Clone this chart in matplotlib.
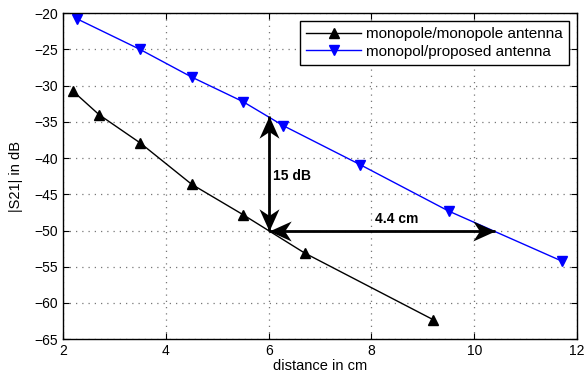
import numpy as np
import matplotlib
matplotlib.use("Agg")
import matplotlib.pyplot as plt
from matplotlib.path import Path

plt.rcParams['font.family'] = ['Liberation Sans', 'DejaVu Sans']

# monopole / monopole antenna link
dist_mono = [2.2, 2.7, 3.5, 4.5, 5.5, 6.7, 9.2]
s21_mono = [-30.8, -34.0, -37.9, -43.6, -47.8, -53.1, -62.3]

# monopole / proposed antenna link
dist_prop = [2.28, 3.5, 4.5, 5.5, 6.28, 7.78, 9.5, 11.7]
s21_prop = [-20.8, -25.0, -28.8, -32.2, -35.5, -40.9, -47.3, -54.2]

# gain and range markers
ref_x, ref_y = 6.0, -50.0
gain_db = 15.8
range_cm = 4.4


def head(angle):
    # stealth style arrow head, tip at the origin, pointing along angle (deg)
    pts = np.array([[0, 0], [-1.0, 0.45], [-0.7, 0], [-1.0, -0.45], [0, 0]])
    a = np.deg2rad(angle)
    rot = np.array([[np.cos(a), -np.sin(a)], [np.sin(a), np.cos(a)]])
    verts = pts @ rot.T
    return Path(verts, [Path.MOVETO] + [Path.LINETO] * 3 + [Path.CLOSEPOLY])


fig = plt.figure(figsize=(5.84, 3.79), dpi=100)
ax = fig.add_axes([0.108, 0.105, 0.880, 0.860])

ax.plot(dist_mono, s21_mono, color='black', lw=1.0, marker='^', ms=7,
        label='monopole/monopole antenna')
ax.plot(dist_prop, s21_prop, color='blue', lw=1.0, marker='v', ms=7,
        label='monopol/proposed antenna')

# double arrows
top_y = ref_y + gain_db
right_x = ref_x + range_cm
ax.plot([ref_x, ref_x], [ref_y, top_y], color='black', lw=2.0,
        solid_capstyle='butt')
ax.plot([ref_x, right_x], [ref_y, ref_y], color='black', lw=2.0,
        solid_capstyle='butt')
for x, y, ang in [(ref_x, top_y, 90), (ref_x, ref_y, -90),
                  (ref_x, ref_y, 180), (right_x, ref_y, 0)]:
    ax.plot([x], [y], marker=head(ang), ms=32, color='black', mew=0,
            linestyle='none')

ax.text(6.08, -42.5, '15 dB', fontsize=10, fontweight='bold',
        va='center', ha='left')
ax.text(8.06, -48.4, '%.1f cm' % range_cm, fontsize=10, fontweight='bold',
        va='center', ha='left')

ax.set_xlim(2, 12)
ax.set_ylim(-65, -20)
ax.set_xticks(range(2, 13, 2))
ax.set_yticks(range(-65, -19, 5))
ax.grid(True, linestyle=(0, (1, 4)), color='#777777', lw=0.9)
ax.tick_params(direction='in', top=True, right=True, length=4,
               labelsize=10, width=0.8)
for s in ax.spines.values():
    s.set_linewidth(1.0)

ax.set_xlabel('distance in cm', fontsize=10.5, labelpad=1)
ax.set_ylabel('|S21| in dB', fontsize=10.5, labelpad=8)

leg = ax.legend(loc='upper right', fontsize=11, fancybox=False,
                framealpha=1, edgecolor='black', handlelength=3.6,
                borderaxespad=0.5, handletextpad=0.35, borderpad=0.4,
                labelspacing=0.25)
leg.get_frame().set_linewidth(1.0)

fig.savefig('out.png', dpi=100)
